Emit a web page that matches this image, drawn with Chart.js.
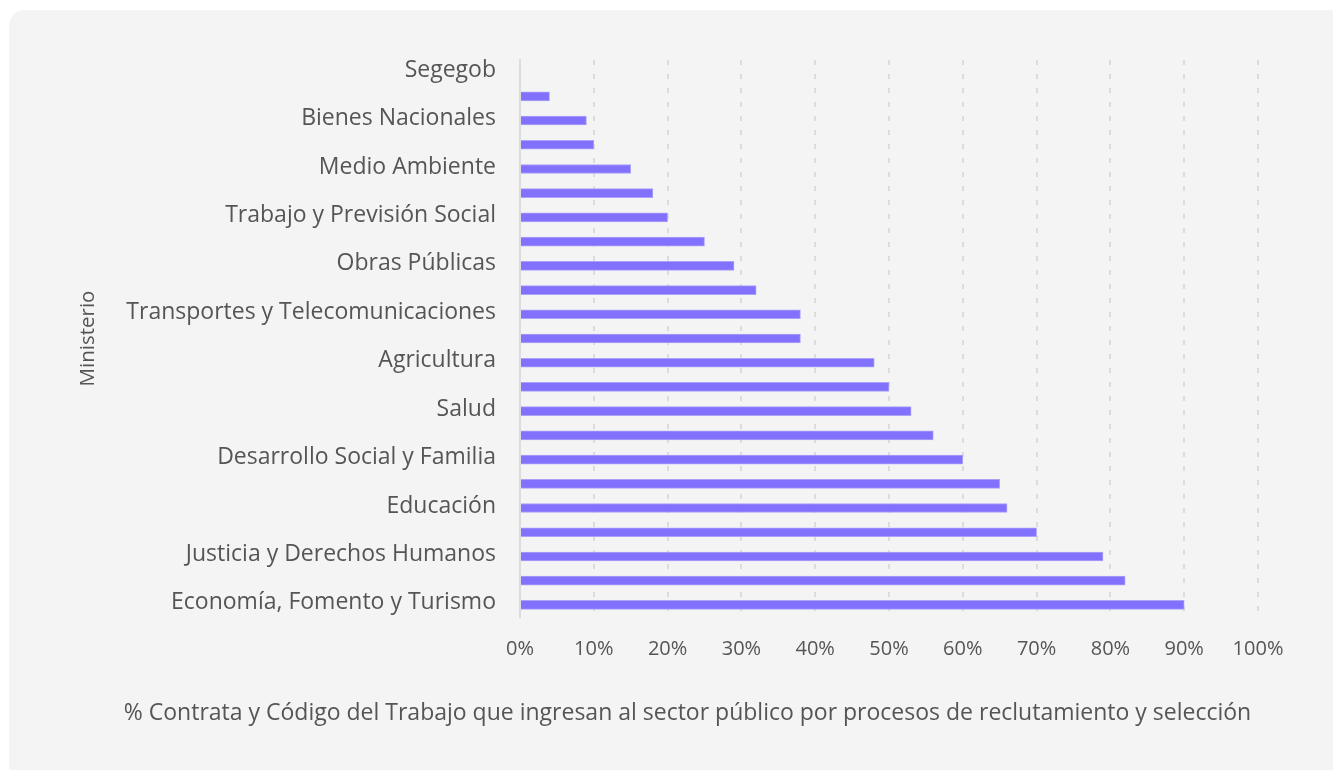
<!DOCTYPE html>
<html lang="es">
<head>
<meta charset="utf-8">
<title>Ingreso por reclutamiento y selección por ministerio</title>
<script src="https://cdn.jsdelivr.net/npm/chart.js@4.4.1/dist/chart.umd.min.js"></script>
<style>
  html, body { margin: 0; padding: 0; background: #ffffff; overflow: hidden; }
  body { width: 1333px; height: 770px; position: relative; font-family: "Open Sans", sans-serif; }
  .card {
    position: absolute; left: 9px; top: 10px; width: 1350px; height: 790px;
    background: #f4f4f4; border-radius: 16px;
  }
  #chart { position: absolute; left: 0; top: 0; }
  .caption {
    position: absolute; left: 0; width: 1375px; top: 696px;
    text-align: center; font-size: 23px; line-height: 30px; color: #555555;
    white-space: nowrap;
  }
</style>
</head>
<body>
<div class="card"></div>
<canvas id="chart" width="1333" height="770"></canvas>
<div class="caption" id="caption"></div>
<script>
// Ministerios, de arriba hacia abajo
const ministerios = [
  'Segegob',
  'Segpres',
  'Bienes Nacionales',
  'Minería',
  'Medio Ambiente',
  'Energía',
  'Trabajo y Previsión Social',
  'Vivienda y Urbanismo',
  'Obras Públicas',
  'Hacienda',
  'Transportes y Telecomunicaciones',
  'Interior y Seguridad Pública',
  'Agricultura',
  'Relaciones Exteriores',
  'Salud',
  'Defensa Nacional',
  'Desarrollo Social y Familia',
  'Mujer y la Equidad de Género',
  'Educación',
  'Deporte',
  'Justicia y Derechos Humanos',
  'Culturas, las Artes y el Patrimonio',
  'Economía, Fomento y Turismo'
];

// % que ingresa por procesos de reclutamiento y selección
const porcentajes = [0, 4, 9, 10, 15, 18, 20, 25, 29, 32, 38, 38, 48, 50, 53, 56, 60, 65, 66, 70, 79, 82, 90];

// Marcas del eje horizontal
const ticksX = [0, 10, 20, 30, 40, 50, 60, 70, 80, 90, 100];

const tituloY = 'Ministerio';
const tituloX = '% Contrata y Código del Trabajo que ingresan al sector público por procesos de reclutamiento y selección';

document.getElementById('caption').textContent = tituloX;

const FONT = '"Open Sans", sans-serif';
const TEXT = '#555555';

new Chart(document.getElementById('chart'), {
  type: 'bar',
  data: {
    labels: ministerios,
    datasets: [{
      data: porcentajes,
      backgroundColor: '#8271fd',
      borderColor: '#aba2f9',
      borderWidth: 1,
      barThickness: 9
    }]
  },
  options: {
    indexAxis: 'y',
    responsive: false,
    animation: false,
    events: [],
    layout: { padding: { left: 72, right: 75, top: 60, bottom: 109 } },
    plugins: { legend: { display: false }, tooltip: { enabled: false } },
    scales: {
      x: {
        min: 0,
        max: 100,
        afterBuildTicks: (scale) => { scale.ticks = ticksX.map(v => ({ value: v })); },
        afterFit: (scale) => { scale.height = 44; },
        ticks: {
          callback: (v) => v + '%',
          color: TEXT,
          font: { family: FONT, size: 20 },
          padding: 20,
          maxRotation: 0
        },
        grid: { color: '#dcdcdc', lineWidth: 2, drawTicks: false },
        border: { display: false, dash: [5, 9] }
      },
      y: {
        afterFit: (scale) => { scale.width = 520 - 72; },
        ticks: {
          autoSkip: false,
          callback: (v, i) => (i % 2 === 0 ? ministerios[i] : ''),
          color: TEXT,
          font: { family: FONT, size: 23 },
          padding: 24,
          labelOffset: -2
        },
        grid: { display: false, drawTicks: false },
        border: { display: true, color: '#dcdcdc', width: 2 },
        title: {
          display: true,
          text: tituloY,
          color: TEXT,
          font: { family: FONT, size: 20.5 },
          padding: { top: 4, bottom: 4 }
        }
      }
    }
  }
});
</script>
</body>
</html>
